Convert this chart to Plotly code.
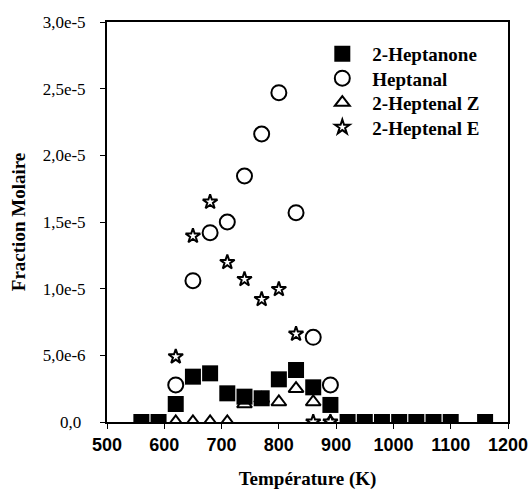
import plotly.graph_objects as go

# Data
T_ketone = [560, 590, 620, 650, 680, 710, 740, 770, 800, 830, 860, 890,
            920, 950, 980, 1010, 1040, 1070, 1100, 1160]
heptanone = [0, 0, 1.35e-6, 3.4e-6, 3.65e-6, 2.15e-6, 1.9e-6, 1.78e-6, 3.2e-6,
             3.9e-6, 2.6e-6, 1.28e-6, 0, 0, 0, 0, 0, 0, 0, 0]

T_heptanal = [620, 650, 680, 710, 740, 770, 800, 830, 860, 890]
heptanal = [2.78e-6, 1.06e-5, 1.42e-5, 1.50e-5, 1.845e-5, 2.16e-5, 2.47e-5,
            1.57e-5, 6.35e-6, 2.78e-6]

T_z = [620, 650, 680, 710, 740, 770, 800, 830, 860, 890]
heptenal_z = [0, 0, 0, 0, 1.35e-6, 1.75e-6, 1.5e-6, 2.5e-6, 1.5e-6, 0]

T_e = [620, 650, 680, 710, 740, 770, 800, 830, 860, 890]
heptenal_e = [4.9e-6, 1.395e-5, 1.65e-5, 1.198e-5, 1.07e-5, 9.2e-6, 9.95e-6,
              6.6e-6, 0, 0]

y_tickvals = [0, 5e-6, 1e-5, 1.5e-5, 2e-5, 2.5e-5, 3e-5]
y_ticktext = ["0,0" + "\u00a0", "5,0e-6", "1,0e-5", "1,5e-5", "2,0e-5",
              "2,5e-5", "3,0e-5"]
x_tickvals = [500, 600, 700, 800, 900, 1000, 1100, 1200]

serif = "Liberation Serif, Times New Roman, serif"
sans = "Liberation Sans, Arial, sans-serif"

fig = go.Figure()
fig.add_trace(go.Scatter(
    x=T_z, y=heptenal_z, mode="markers", name="2-Heptenal Z", legend="legend3",
    marker=dict(symbol="triangle-up", size=13, color="white",
                line=dict(color="black", width=2))))
fig.add_trace(go.Scatter(
    x=T_heptanal, y=heptanal, mode="markers", name="Heptanal", legend="legend2",
    marker=dict(symbol="circle", size=15, color="white",
                line=dict(color="black", width=2))))
fig.add_trace(go.Scatter(
    x=T_e, y=heptenal_e, mode="markers", name="2-Heptenal E", legend="legend4",
    marker=dict(symbol="star", size=11, color="white",
                line=dict(color="black", width=2))))
fig.add_trace(go.Scatter(
    x=T_ketone, y=heptanone, mode="markers", name="2-Heptanone", legend="legend",
    marker=dict(symbol="square", size=16, color="black",
                line=dict(color="black", width=0))))

legend_font = dict(family=serif, size=19, color="black", weight="bold")
legend_y = [54, 78.3, 102.7, 127.3]   # item centres in px from top
names = ["legend", "legend2", "legend3", "legend4"]
legends = {}
for nm, yc in zip(names, legend_y):
    legends[nm] = dict(x=0.512, y=(422 - yc) / 400, xanchor="left", yanchor="middle",
                       bgcolor="rgba(0,0,0,0)", borderwidth=0, font=legend_font,
                       tracegroupgap=0, itemwidth=50)

fig.update_layout(
    width=531, height=495,
    margin=dict(l=107, r=23, t=22, b=73),
    paper_bgcolor="white", plot_bgcolor="white",
    showlegend=True,
    **legends,
    xaxis=dict(range=[500, 1200], tickvals=x_tickvals, automargin=False,
               showgrid=False, zeroline=False,
               showline=True, linecolor="black", linewidth=2, mirror=True,
               ticks="outside", ticklen=5, tickwidth=1, tickcolor="black",
               tickfont=dict(family=sans, size=18, color="black", weight="bold"),
               title=dict(text="Température (K)", standoff=18,
                          font=dict(family=serif, size=19, color="black", weight="bold"))),
    yaxis=dict(range=[0, 3e-5], tickvals=y_tickvals, ticktext=y_ticktext,
               automargin=False,
               showgrid=False, zeroline=False,
               showline=True, linecolor="black", linewidth=2, mirror=True,
               ticks="outside", ticklen=5, tickwidth=1, tickcolor="black",
               ticklabelstandoff=11,
               tickfont=dict(family=serif, size=17, color="black"),
               title=dict(text="Fraction Molaire", standoff=12,
                          font=dict(family=serif, size=19, color="black", weight="bold"))),
)

fig.write_html("out.html", config={"displayModeBar": False},
               post_script="document.body.style.margin='0';document.body.style.padding='0';")
